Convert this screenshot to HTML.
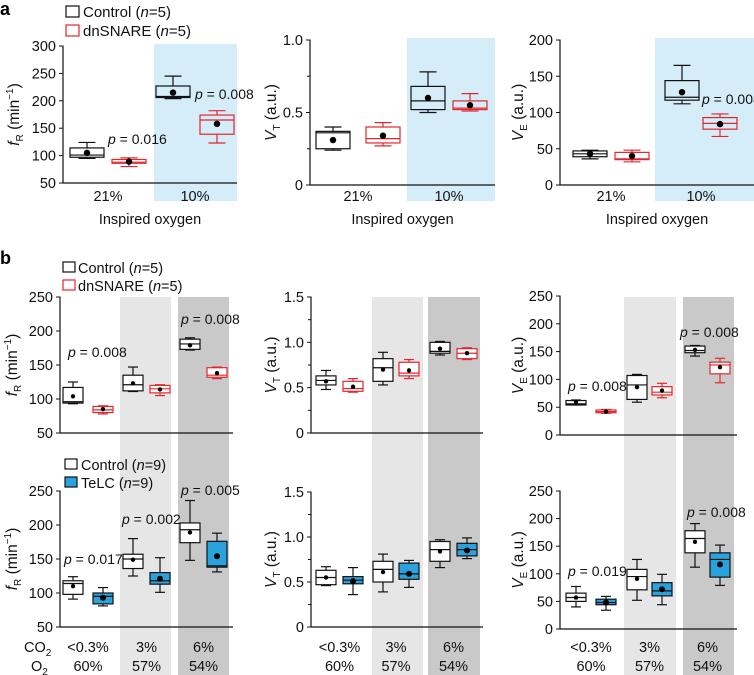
<!DOCTYPE html>
<html><head><meta charset="utf-8">
<style>
html,body{margin:0;padding:0;background:#fff;}
svg{display:block;font-family:"Liberation Sans",Arial,sans-serif;}
</style></head>
<body>
<svg id="fig" width="754" height="675" viewBox="0 0 754 675" xmlns="http://www.w3.org/2000/svg"></svg>
<script>
// ---- data: each box = [min, q1, median, q3, max, mean] ----
const aFR_ctrl = [[95,97,101,114,124,105],[204,206,208,227,245,215]];
const aFR_dn   = [[80,86,88,93,96,89],[123,139,165,174,182,158]];
const aVT_ctrl = [[0.24,0.25,0.36,0.37,0.40,0.31],[0.50,0.52,0.58,0.68,0.78,0.60]];
const aVT_dn   = [[0.27,0.29,0.32,0.40,0.43,0.34],[0.51,0.52,0.53,0.58,0.63,0.55]];
const aVE_ctrl = [[36,39,43,47,48,43],[112,117,121,144,165,128]];
const aVE_dn   = [[32,35,36,45,48,40],[67,77,85,93,98,84]];

const bFR_ctrl = [[93,94,96,117,125,104],[111,112,121,135,147,123],[172,173,181,188,190,179]];
const bFR_dn   = [[78,80,84,89,90,85],[105,109,115,120,121,114],[130,132,135,146,147,138]];
const bVT_ctrl = [[0.48,0.53,0.58,0.63,0.69,0.57],[0.53,0.57,0.72,0.82,0.89,0.70],[0.86,0.88,0.90,1.00,1.01,0.93]];
const bVT_dn   = [[0.45,0.46,0.49,0.57,0.60,0.51],[0.60,0.63,0.66,0.78,0.81,0.69],[0.81,0.82,0.88,0.93,0.94,0.88]];
const bVE_ctrl = [[54,54,56,62,63,60],[59,64,90,107,109,86],[142,148,152,160,161,153]];
const bVE_dn   = [[39,40,42,45,46,42],[67,72,77,87,93,80],[94,110,126,131,138,122]];

const cFR_ctrl = [[91,98,114,118,124,110],[125,136,150,157,180,149],[148,174,193,203,236,189]];
const cFR_te   = [[81,84,95,100,108,93],[101,113,118,130,152,121],[131,138,140,176,188,154]];
const cVT_ctrl = [[0.46,0.47,0.55,0.63,0.67,0.55],[0.39,0.50,0.64,0.73,0.81,0.61],[0.66,0.73,0.86,0.95,0.97,0.84]];
const cVT_te   = [[0.36,0.48,0.52,0.56,0.66,0.51],[0.44,0.53,0.59,0.71,0.74,0.59],[0.76,0.79,0.86,0.93,0.99,0.85]];
const cVE_ctrl = [[40,50,57,65,77,57],[52,71,95,108,126,91],[112,138,164,178,191,158]];
const cVE_te   = [[34,44,48,54,59,48],[44,60,69,84,99,72],[79,94,126,138,152,117]];

const yTicksFR_a = [50,100,150,200,250,300];
const yTicksVT_a = [0,0.5,1.0];
const yTicksVE_a = [0,50,100,150,200];
const yTicksFR_b = [50,100,150,200,250];
const yTicksVT_b = [0,0.5,1.0,1.5];
const yTicksVE_b = [0,50,100,150,200,250];
const aCategories = ["21%","10%"];
const bCO2 = ["<0.3%","3%","6%"];
const bO2 = ["60%","57%","54%"];

const RED="#e3262b", TEAL="#2aa3dc", LBLUE="#d5edf9", LGRAY="#e6e6e6", DGRAY="#c9c9c9";
const svg=document.getElementById('fig');
const NS="http://www.w3.org/2000/svg";
function el(tag,attrs,parent){const e=document.createElementNS(NS,tag);for(const k in attrs)e.setAttribute(k,attrs[k]);(parent||svg).appendChild(e);return e;}
function txt(x,y,s,size,anchor,parent,extra){const t=el('text',Object.assign({x:x,y:y,'font-size':size,'text-anchor':anchor||'start',fill:'#111'},extra||{}),parent);t.textContent=s;return t;}

function fmt(v){return v===0?"0":(Number.isInteger(v)&&v>=2?String(v):v.toFixed(1));}

function drawAxis(g,P){
  const sc=v=>P.y0+(v-P.vmin)/(P.vmax-P.vmin)*(P.y1-P.y0);
  el('line',{x1:P.ax,y1:P.y1-0.5,x2:P.ax,y2:P.y0,stroke:'#111','stroke-width':1.2},g);
  el('line',{x1:P.ax,y1:P.y0,x2:P.axEnd,y2:P.y0,stroke:'#111','stroke-width':1.2},g);
  P.ticks.forEach(v=>{
    const y=sc(v);
    el('line',{x1:P.ax-4,y1:y,x2:P.ax,y2:y,stroke:'#111','stroke-width':1},g);
    const t=txt(P.ax-7,y+5,fmt(v),14.5,'end',g);
    
    
  });
  if(P.minor){P.ticks.slice(0,-1).forEach((v,i)=>{const m=(v+P.ticks[i+1])/2;const y=sc(m);el('line',{x1:P.ax-3,y1:y,x2:P.ax,y2:y,stroke:'#111','stroke-width':1},g);});}
  const tt=el('text',{transform:`translate(${P.titleX},${(P.y0+P.y1)/2}) rotate(-90)`,'font-size':15.5,'text-anchor':'middle',fill:'#111'},g);
  
  
  const a=document.createElementNS(NS,'tspan');a.setAttribute('font-style','italic');a.textContent=P.tLetter;tt.appendChild(a);
  const b=document.createElementNS(NS,'tspan');b.setAttribute('font-size',10);b.setAttribute('dy',4);b.textContent=P.tSub;tt.appendChild(b);
  const c=document.createElementNS(NS,'tspan');c.setAttribute('dy',-4);c.textContent=P.tRest;tt.appendChild(c);
  if(P.tSup){const d=document.createElementNS(NS,'tspan');d.setAttribute('font-size',10);d.setAttribute('dy',-6);d.textContent=P.tSup;tt.appendChild(d);
    const e=document.createElementNS(NS,'tspan');e.setAttribute('dy',6);e.textContent=')';tt.appendChild(e);}
  return sc;
}

function drawBox(g,sc,cx,w,d,stroke,fill,dotR,name){
  const bg=el('g',{},g);
  
  
  const [mn,q1,md,q3,mx,mean]=d;
  const cw=w*0.5;
  el('line',{x1:cx,y1:sc(mx),x2:cx,y2:sc(q3),stroke:stroke,'stroke-width':1.2},bg);
  el('line',{x1:cx,y1:sc(q1),x2:cx,y2:sc(mn),stroke:stroke,'stroke-width':1.2},bg);
  el('line',{x1:cx-cw/2,y1:sc(mx),x2:cx+cw/2,y2:sc(mx),stroke:stroke,'stroke-width':1.2},bg);
  el('line',{x1:cx-cw/2,y1:sc(mn),x2:cx+cw/2,y2:sc(mn),stroke:stroke,'stroke-width':1.2},bg);
  el('rect',{x:cx-w/2,y:sc(q3),width:w,height:Math.max(0.5,sc(q1)-sc(q3)),fill:fill,stroke:stroke,'stroke-width':1.2},bg);
  el('line',{x1:cx-w/2,y1:sc(md),x2:cx+w/2,y2:sc(md),stroke:stroke==RED?RED:'#111','stroke-width':1.2},bg);
  el('circle',{cx:cx,cy:sc(mean),r:dotR,fill:'#000'},bg);
}

function pText(g,x,y,val){
  const t=el('text',{x:x,y:y,'font-size':14,fill:'#111'},g);
  
  
  const a=document.createElementNS(NS,'tspan');a.setAttribute('font-style','italic');a.textContent='p';t.appendChild(a);
  const b=document.createElementNS(NS,'tspan');b.textContent=' = '+val;t.appendChild(b);
}

const aPanels=[
 {name:'panel-a-fr',ax:63,axEnd:237,y0:183,y1:46,vmin:50,vmax:300,ticks:yTicksFR_a,titleX:19,tLetter:'f',tSub:'R',tRest:' (min',tSup:'−1',shade:[154,237],off:[24,66,110,154],ctrl:aFR_ctrl,trt:aFR_dn,
   p:[[108,144,'0.016'],[195,99,'0.008']]},
 {name:'panel-a-vt',ax:310,axEnd:495,y0:185,y1:40,vmin:0,vmax:1,ticks:yTicksVT_a,minor:true,titleX:276,tLetter:'V',tSub:'T',tRest:' (a.u.)',shade:[407,495],off:[23,73,118,160],ctrl:aVT_ctrl,trt:aVT_dn,p:[]},
 {name:'panel-a-ve',ax:560,axEnd:754,y0:185,y1:40,vmin:0,vmax:200,ticks:yTicksVE_a,titleX:523,tLetter:'V',tSub:'E',tRest:' (a.u.)',shade:[655,754],off:[30,72,122,160],ctrl:aVE_ctrl,trt:aVE_dn,p:[[702,104,'0.008']]}
];
aPanels.forEach(P=>{
  const g=el('g',{});
  
  
  const sh=el('rect',{x:P.shade[0],y:P.y1-2,width:P.shade[1]-P.shade[0],height:203-P.y1,fill:LBLUE},g);
  
  
  const sc=drawAxis(g,P);
  for(let i=0;i<aCategories.length;i++){
    drawBox(g,sc,P.ax+P.off[i*2],34,P.ctrl[i],'#111','none',3.2,'box-control-'+aCategories[i]);
    drawBox(g,sc,P.ax+P.off[i*2+1],34,P.trt[i],RED,'none',3.2,'box-dnsnare-'+aCategories[i]);
    const cx=P.ax+(P.off[i*2]+P.off[i*2+1])/2;
    const t=txt(cx,201,aCategories[i],14.5,'middle',g);
    
    
  }
  const xt=txt((P.ax+P.axEnd)/2,224,'Inspired oxygen',14.5,'middle',g);
  
  
  P.p.forEach(p=>pText(g,p[0],p[1],p[2]));
});

const bCols=[
 {ax:60,axEnd:233,light:[120,171],dark:[178,229],off:[13,43,73,100,130,157]},
 {ax:311,axEnd:483,light:[372,423],dark:[428,480],off:[15,42,72,98,129,156]},
 {ax:560,axEnd:737,light:[624,676],dark:[683,734],off:[16,46,77,102,135,160]}
];
bCols.forEach((C,i)=>{
  const l=el('rect',{x:C.light[0],y:297,width:C.light[1]-C.light[0],height:378,fill:LGRAY});
  
  
  const d=el('rect',{x:C.dark[0],y:297,width:C.dark[1]-C.dark[0],height:378,fill:DGRAY});
  
  
});
const bPanels=[
 {name:'panel-b-top-fr',col:0,y0:433,y1:297,vmin:50,vmax:250,ticks:yTicksFR_b,titleX:17,tLetter:'f',tSub:'R',tRest:' (min',tSup:'−1',ctrl:bFR_ctrl,trt:bFR_dn,col2:RED,fill2:'#fff',p:[[68,357,'0.008'],[181,324,'0.008']]},
 {name:'panel-b-top-vt',col:1,y0:433,y1:297,vmin:0,vmax:1.5,ticks:yTicksVT_b,minor:true,titleX:276,tLetter:'V',tSub:'T',tRest:' (a.u.)',ctrl:bVT_ctrl,trt:bVT_dn,col2:RED,fill2:'#fff',p:[]},
 {name:'panel-b-top-ve',col:2,y0:435,y1:296,vmin:0,vmax:250,ticks:yTicksVE_b,titleX:523,tLetter:'V',tSub:'E',tRest:' (a.u.)',ctrl:bVE_ctrl,trt:bVE_dn,col2:RED,fill2:'#fff',p:[[568,391,'0.008'],[680,337,'0.008']]},
 {name:'panel-b-bottom-fr',col:0,y0:627,y1:491,vmin:50,vmax:250,ticks:yTicksFR_b,titleX:17,tLetter:'f',tSub:'R',tRest:' (min',tSup:'−1',ctrl:cFR_ctrl,trt:cFR_te,col2:'#111',fill2:TEAL,p:[[64,564,'0.017'],[122,524,'0.002'],[181,495,'0.005']]},
 {name:'panel-b-bottom-vt',col:1,y0:627,y1:492,vmin:0,vmax:1.5,ticks:yTicksVT_b,minor:true,titleX:276,tLetter:'V',tSub:'T',tRest:' (a.u.)',ctrl:cVT_ctrl,trt:cVT_te,col2:'#111',fill2:TEAL,p:[]},
 {name:'panel-b-bottom-ve',col:2,y0:629,y1:491,vmin:0,vmax:250,ticks:yTicksVE_b,titleX:523,tLetter:'V',tSub:'E',tRest:' (a.u.)',ctrl:cVE_ctrl,trt:cVE_te,col2:'#111',fill2:TEAL,p:[[568,576,'0.019'],[687,517,'0.008']]}
];
bPanels.forEach(P=>{
  const C=bCols[P.col];
  P.ax=C.ax;P.axEnd=C.axEnd;
  const g=el('g',{});
  
  
  const sc=drawAxis(g,P);
  for(let i=0;i<3;i++){
    drawBox(g,sc,P.ax+C.off[i*2],20,P.ctrl[i],'#111','#fff',2.2,'box-control-'+i);
    drawBox(g,sc,P.ax+C.off[i*2+1],20,P.trt[i],P.col2,P.fill2,P.fill2===TEAL?3:2.2,'box-treatment-'+i);
  }
  P.p.forEach(p=>pText(g,p[0],p[1],p[2]));
});
bCols.forEach((C,ci)=>{
  for(let i=0;i<3;i++){
    const cx=C.ax+(C.off[i*2]+C.off[i*2+1])/2;
    const t1=txt(cx,652,bCO2[i],14.5,'middle');
    
    
    const t2=txt(cx,671,bO2[i],14.5,'middle');
    
    
  }
});

(function(){
const s=svg;
function add(html){s.insertAdjacentHTML('beforeend',html);}
add('<text x="0" y="15" font-size="18" font-weight="bold" fill="#000">a</text>');
add('<text x="0" y="264" font-size="18" font-weight="bold" fill="#000">b</text>');
add('<g><rect x="66" y="6" width="13" height="11" fill="#fff" stroke="#111" stroke-width="1.2"/><text x="83" y="17" font-size="15" fill="#111">Control (<tspan font-style="italic">n</tspan>=5)</text><rect x="66" y="25" width="13" height="11" fill="#fff" stroke="'+RED+'" stroke-width="1.2"/><text x="83" y="36" font-size="15" fill="#111">dnSNARE (<tspan font-style="italic">n</tspan>=5)</text></g>');
add('<g><rect x="63" y="262" width="12" height="10" fill="#fff" stroke="#111" stroke-width="1.2"/><text x="78" y="273" font-size="14.5" fill="#111">Control (<tspan font-style="italic">n</tspan>=5)</text><rect x="63" y="280" width="12" height="10" fill="#fff" stroke="'+RED+'" stroke-width="1.2"/><text x="78" y="291" font-size="14.5" fill="#111">dnSNARE (<tspan font-style="italic">n</tspan>=5)</text></g>');
add('<g><rect x="65" y="459" width="12" height="10" fill="#fff" stroke="#111" stroke-width="1.2"/><text x="81" y="470" font-size="14.5" fill="#111">Control (<tspan font-style="italic">n</tspan>=9)</text><rect x="65" y="477" width="12" height="10" fill="'+TEAL+'" stroke="#111" stroke-width="1.2"/><text x="81" y="488" font-size="14.5" fill="#111">TeLC (<tspan font-style="italic">n</tspan>=9)</text></g>');
add('<text x="24" y="652" font-size="14.5" fill="#111">CO<tspan font-size="10" dy="4">2</tspan></text>');
add('<text x="31" y="671" font-size="14.5" fill="#111">O<tspan font-size="10" dy="4">2</tspan></text>');
})();
</script>
</body></html>
